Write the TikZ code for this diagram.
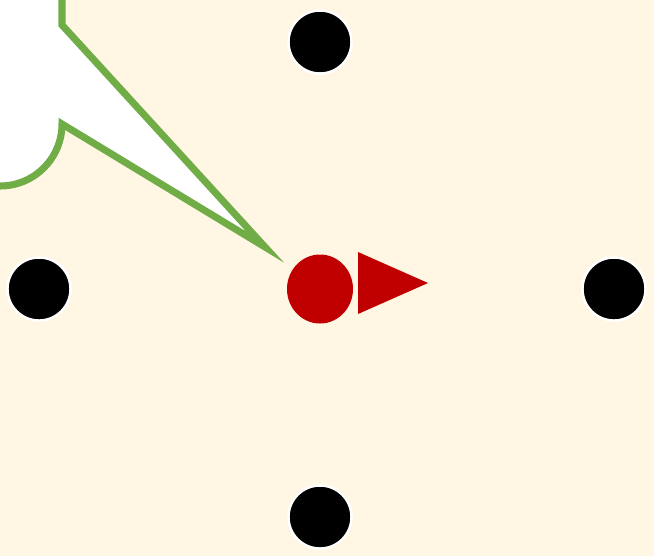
\documentclass[tikz,border=0pt]{standalone}
\usepackage{xcolor}
\usepackage{tikz}
\usetikzlibrary{shapes.geometric,positioning,calc}
\definecolor{bgcream}{HTML}{FFF6E3}
\definecolor{agentred}{HTML}{C00000}
\definecolor{bubblegreen}{HTML}{70AD47}
\tikzset{
  dot/.style     = {circle, fill=black, draw=white, line width=0.7pt,
                    minimum size=6.3mm, inner sep=0pt},
  agent/.style   = {ellipse, fill=agentred, minimum width=6.6mm,
                    minimum height=6.9mm, inner sep=0pt},
  heading/.style = {fill=agentred},
  bubble/.style  = {fill=white, draw=bubblegreen, line width=2pt,
                    miter limit=10},
}

\begin{document}
\begin{tikzpicture}[x=0.1mm, y=-0.1mm]
  \fill[bgcream] (0,0) rectangle (654,556);
  \useasboundingbox (0,0) rectangle (654,556);
  \begin{scope}
    \clip (0,0) rectangle (654,556);
    \filldraw[bubble] (62,-20) -- (62,25) -- (265,247) -- (62,124)
      arc[start angle=0, end angle=90, radius=62] -- (-20,186) -- (-20,-20) -- cycle;
  \end{scope}
  \node[agent] (ag) at (320,289) {};
  \coordinate (hd) at (358,283);
  \fill[heading] ($(hd)+(0,-31)$) -- ($(hd)+(70,0)$) -- ($(hd)+(0,31)$) -- cycle;
  \node[dot] (dn) at (320,42) {};
  \node[dot] (dw) at (39,289) {};
  \node[dot] (de) at (614,289) {};
  \node[dot] (ds) at (320,517) {};
\end{tikzpicture}
\end{document}
